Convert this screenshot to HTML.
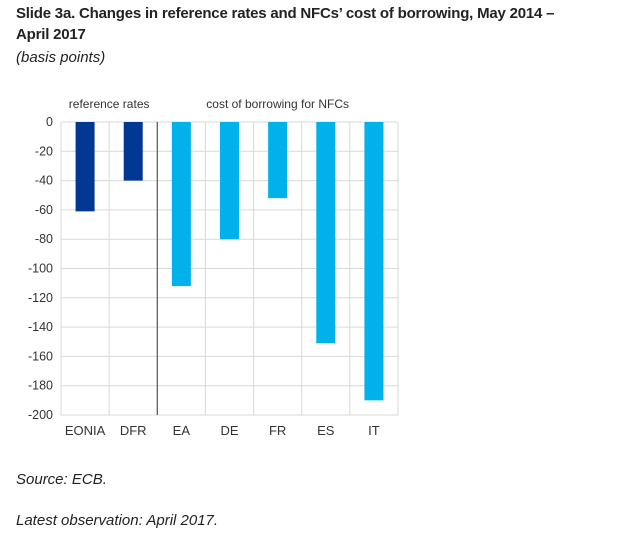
<!DOCTYPE html>
<html><head><meta charset="utf-8"><style>
body{margin:0;width:628px;height:537px;background:#fff;font-family:"Liberation Sans",sans-serif;position:relative;overflow:hidden}
.t{position:absolute;left:16px;color:#222}
</style></head><body>
<div class="t" style="top:3px;font-weight:bold;font-size:15px;line-height:21px;width:570px;letter-spacing:-0.2px">Slide 3a. Changes in reference rates and NFCs’ cost of borrowing, May 2014 – April 2017</div>
<div class="t" style="top:49px;font-style:italic;font-size:15px">(basis points)</div>
<svg id="c" width="628" height="537" style="position:absolute;left:0;top:0"></svg>
<div class="t" style="top:471px;font-style:italic;font-size:15px">Source: ECB.</div>
<div class="t" style="top:512px;font-style:italic;font-size:15px">Latest observation: April 2017.</div>
<script>
const categories=["EONIA","DFR","EA","DE","FR","ES","IT"];
const values=[-61,-40,-112,-80,-52,-151,-190];
const groups=["ref","ref","cob","cob","cob","cob","cob"];
const ticks=[0,-20,-40,-60,-80,-100,-120,-140,-160,-180,-200];
const NS="http://www.w3.org/2000/svg",svg=document.getElementById('c');
const L=61,R=398,T=122,B=415,bw=(R-L)/categories.length;
const y=v=>T+(0-v)/200*(B-T);
const x=i=>L+bw*i;
function mk(t,a,txt){const e=document.createElementNS(NS,t);for(const k in a)e.setAttribute(k,a[k]);if(txt!=null)e.textContent=txt;svg.appendChild(e);return e;}
ticks.forEach(t=>{
 const g=mk('line',{x1:L,x2:R,y1:y(t),y2:y(t),stroke:'#d9d9d9','stroke-width':1});
 
 
 const l=mk('text',{x:L-8,y:y(t)+4,'text-anchor':'end','font-size':12.5,fill:'#333','font-family':'Liberation Sans'},t);
 
 
});
for(let i=0;i<=categories.length;i++){
 const g=mk('line',{x1:x(i),x2:x(i),y1:T,y2:B,stroke:'#d9d9d9','stroke-width':1});
 
 
}
categories.forEach((c,i)=>{
 const cx=x(i)+bw/2;
 const r=mk('rect',{x:cx-9.5,y:y(0),width:19,height:y(values[i])-y(0),fill:groups[i]=='ref'?'#003894':'#00b1ea'});
 
 
 const l=mk('text',{x:cx,y:B+20,'text-anchor':'middle','font-size':13,fill:'#333','font-family':'Liberation Sans'},c);
 
 
});
const s=mk('line',{x1:x(2),x2:x(2),y1:T,y2:B,stroke:'#555','stroke-width':1.2});


const g1=mk('text',{x:(x(0)+x(2))/2,y:108,'text-anchor':'middle','font-size':12,fill:'#333','font-family':'Liberation Sans'},'reference rates');


const g2=mk('text',{x:(x(2)+x(7))/2,y:108,'text-anchor':'middle','font-size':12,fill:'#333','font-family':'Liberation Sans'},'cost of borrowing for NFCs');


</script>
</body></html>
